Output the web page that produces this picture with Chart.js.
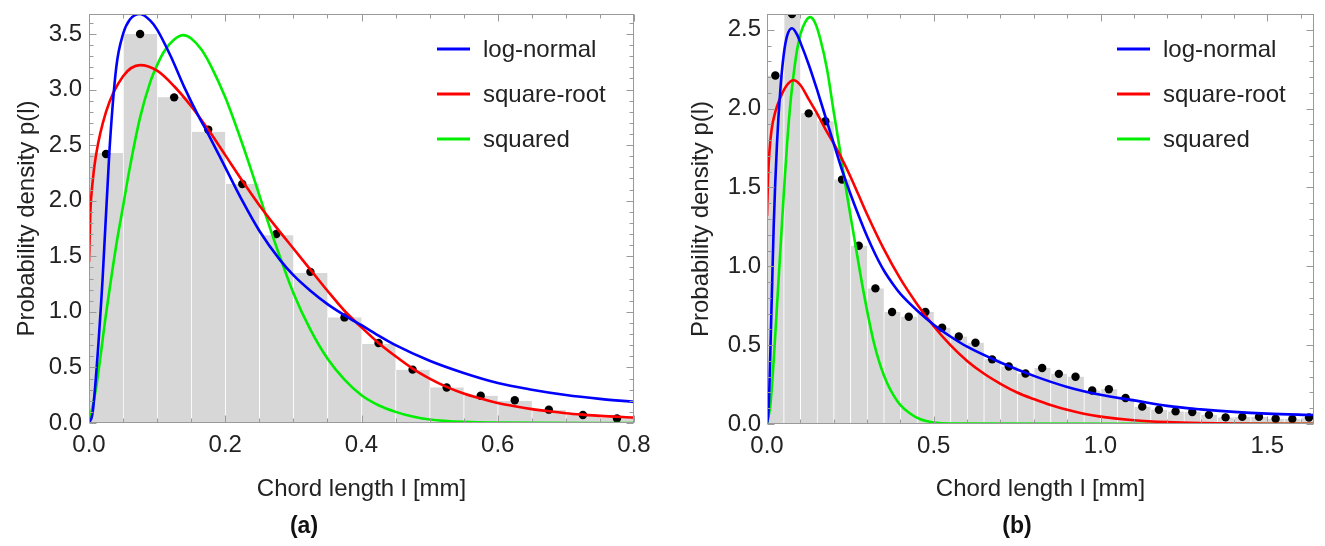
<!DOCTYPE html>
<html><head><meta charset="utf-8">
<script src="https://cdn.jsdelivr.net/npm/chart.js@4/dist/chart.umd.min.js"></script>
<style>
html,body{margin:0;padding:0;background:#fff;width:1325px;height:546px;overflow:hidden;}
#wrap{position:relative;width:1325px;height:546px;}
canvas{position:absolute;top:0;}
#ca{left:0;} #cb{left:660px;}
.tag{position:absolute;top:512px;width:100px;text-align:center;font:bold 23px "Liberation Sans",Arial,sans-serif;line-height:26px;color:#111;}
</style></head><body>
<div id="wrap">
<canvas id="ca" width="660" height="546"></canvas>
<canvas id="cb" width="665" height="546"></canvas>
<div class="tag" style="left:254px">(a)</div>
<div class="tag" style="left:967px">(b)</div>
</div>
<script>
// ---------------- Panel (a) data ----------------
const binCentersA = [0.025, 0.075, 0.125, 0.175, 0.225, 0.275, 0.325, 0.375, 0.425, 0.475, 0.525, 0.575, 0.625, 0.675, 0.725, 0.775];
const histA   = [2.43, 3.50, 2.93, 2.62, 2.15, 1.69, 1.35, 0.95, 0.71, 0.48, 0.32, 0.246, 0.198, 0.117, 0.072, 0.045];
const pointsA = [2.42, 3.50, 2.93, 2.64, 2.15, 1.70, 1.36, 0.95, 0.72, 0.48, 0.32, 0.245, 0.205, 0.12, 0.072, 0.04];

const lognormalXA = [0, 0.005, 0.01, 0.02, 0.03, 0.04, 0.05, 0.06, 0.075, 0.09, 0.1, 0.12, 0.14, 0.16, 0.175, 0.2, 0.225, 0.25, 0.28, 0.3, 0.325, 0.35, 0.383, 0.4, 0.427, 0.45, 0.5, 0.55, 0.6, 0.65, 0.7, 0.75, 0.8];
const lognormalYA = [0, 0.08, 0.4, 1.3, 2.45, 3.2, 3.5, 3.63, 3.68, 3.62, 3.54, 3.3, 3.02, 2.77, 2.6, 2.3, 2.0, 1.73, 1.47, 1.33, 1.19, 1.07, 0.94, 0.88, 0.78, 0.7, 0.56, 0.45, 0.36, 0.3, 0.252, 0.217, 0.19];

const sqrtXA = [0, 0.002, 0.005, 0.01, 0.025, 0.05, 0.075, 0.1, 0.125, 0.15, 0.175, 0.2, 0.225, 0.25, 0.275, 0.3, 0.325, 0.35, 0.375, 0.4, 0.425, 0.45, 0.475, 0.5, 0.525, 0.55, 0.575, 0.6, 0.625, 0.65, 0.675, 0.7, 0.725, 0.75, 0.8];
const sqrtYA = [1.45, 1.9, 2.15, 2.4, 2.8, 3.12, 3.22, 3.17, 3.03, 2.85, 2.64, 2.41, 2.18, 1.96, 1.76, 1.57, 1.38, 1.19, 1.01, 0.86, 0.72, 0.6, 0.49, 0.4, 0.325, 0.265, 0.22, 0.18, 0.15, 0.125, 0.105, 0.088, 0.075, 0.064, 0.05];

const squaredXA = [0, 0.01, 0.025, 0.04, 0.05, 0.06, 0.075, 0.09, 0.1, 0.11, 0.125, 0.1385, 0.15, 0.165, 0.18, 0.2, 0.22, 0.24, 0.26, 0.28, 0.3, 0.325, 0.35, 0.375, 0.4, 0.425, 0.45, 0.475, 0.5, 0.55, 0.6, 0.8];
const squaredYA = [0, 0.3, 0.98, 1.6, 1.95, 2.3, 2.75, 3.07, 3.22, 3.34, 3.45, 3.49, 3.46, 3.36, 3.2, 2.93, 2.6, 2.24, 1.86, 1.5, 1.17, 0.84, 0.58, 0.39, 0.25, 0.16, 0.1, 0.058, 0.032, 0.01, 0.003, 0];

const xTicksA = [0, 0.2, 0.4, 0.6, 0.8];
const xTickLabelsA = ['0.0', '0.2', '0.4', '0.6', '0.8'];
const yTicksA = [0, 0.5, 1.0, 1.5, 2.0, 2.5, 3.0, 3.5];
const yTickLabelsA = ['0.0', '0.5', '1.0', '1.5', '2.0', '2.5', '3.0', '3.5'];

// ---------------- Panel (b) data ----------------
const binCentersB = [0.025, 0.075, 0.125, 0.175, 0.225, 0.275, 0.325, 0.375, 0.425, 0.475, 0.525, 0.575, 0.625, 0.675, 0.725, 0.775, 0.825, 0.875, 0.925, 0.975, 1.025, 1.075, 1.125, 1.175, 1.225, 1.275, 1.325, 1.375, 1.425, 1.475, 1.525, 1.575, 1.625];
const histB   = [2.21, 2.62, 1.97, 1.92, 1.55, 1.13, 0.86, 0.71, 0.68, 0.71, 0.61, 0.555, 0.515, 0.41, 0.365, 0.32, 0.355, 0.318, 0.30, 0.212, 0.22, 0.165, 0.11, 0.09, 0.08, 0.076, 0.058, 0.042, 0.045, 0.045, 0.033, 0.031, 0.041];
const pointsB = [2.21, 2.60, 1.97, 1.92, 1.55, 1.13, 0.86, 0.71, 0.68, 0.71, 0.61, 0.555, 0.515, 0.41, 0.365, 0.32, 0.355, 0.318, 0.30, 0.212, 0.22, 0.165, 0.11, 0.09, 0.08, 0.076, 0.058, 0.042, 0.045, 0.045, 0.033, 0.031, 0.041];

const lognormalXB = [0, 0.005, 0.01, 0.02, 0.03, 0.04, 0.05, 0.06, 0.075, 0.09, 0.1, 0.125, 0.15, 0.175, 0.2, 0.225, 0.25, 0.275, 0.3, 0.325, 0.35, 0.38, 0.4, 0.45, 0.5, 0.55, 0.6, 0.7, 0.8, 0.9, 1.0, 1.1, 1.2, 1.3, 1.4, 1.5, 1.64];
const lognormalYB = [0, 0.1, 0.45, 1.25, 1.78, 2.12, 2.34, 2.46, 2.51, 2.47, 2.42, 2.28, 2.12, 1.95, 1.78, 1.61, 1.46, 1.32, 1.19, 1.075, 0.975, 0.88, 0.825, 0.72, 0.63, 0.555, 0.49, 0.39, 0.305, 0.235, 0.185, 0.15, 0.115, 0.093, 0.077, 0.066, 0.057];

const sqrtXB = [0, 0.003, 0.007, 0.014, 0.025, 0.04, 0.06, 0.08, 0.1, 0.125, 0.15, 0.175, 0.2, 0.225, 0.25, 0.275, 0.3, 0.35, 0.4, 0.45, 0.5, 0.55, 0.6, 0.65, 0.7, 0.75, 0.8, 0.85, 0.9, 0.95, 1.0, 1.1, 1.2, 1.3, 1.4, 1.5, 1.64];
const sqrtYB = [1.32, 1.55, 1.72, 1.87, 1.98, 2.07, 2.15, 2.18, 2.15, 2.06, 1.97, 1.87, 1.78, 1.68, 1.57, 1.45, 1.33, 1.11, 0.92, 0.76, 0.62, 0.5, 0.4, 0.32, 0.255, 0.2, 0.158, 0.12, 0.09, 0.065, 0.047, 0.024, 0.012, 0.006, 0.003, 0.0015, 0.0005];

const squaredXB = [0, 0.01, 0.02, 0.03, 0.04, 0.05, 0.06, 0.07, 0.08, 0.09, 0.1, 0.115, 0.13, 0.145, 0.16, 0.18, 0.2, 0.22, 0.24, 0.26, 0.28, 0.3, 0.32, 0.34, 0.36, 0.38, 0.4, 0.43, 0.46, 0.5, 0.55, 1.64];
const squaredYB = [0, 0.12, 0.4, 0.75, 1.1, 1.45, 1.77, 2.03, 2.22, 2.37, 2.47, 2.55, 2.58, 2.54, 2.44, 2.25, 1.98, 1.72, 1.45, 1.2, 0.95, 0.72, 0.52, 0.37, 0.26, 0.18, 0.12, 0.065, 0.03, 0.01, 0.003, 0];

const xTicksB = [0, 0.5, 1.0, 1.5];
const xTickLabelsB = ['0.0', '0.5', '1.0', '1.5'];
const yTicksB = [0, 0.5, 1.0, 1.5, 2.0, 2.5];
const yTickLabelsB = ['0.0', '0.5', '1.0', '1.5', '2.0', '2.5'];

const seriesNames = ['log-normal', 'square-root', 'squared'];
const seriesColors = ['#0000ff', '#ff0000', '#00ee00'];
const xTitle = 'Chord length l [mm]';
const yTitle = 'Probability density p(l)';

// ---------------- rendering ----------------
const FONT = '"Liberation Sans", Arial, Helvetica, sans-serif';
Chart.defaults.font.family = FONT;
Chart.defaults.color = '#222';

const frameTicks = {
  id: 'frameTicks',
  afterDatasetsDraw(chart, args, o) {
    const {ctx, chartArea: a, scales: {x, y}} = chart;
    ctx.save();
    ctx.strokeStyle = '#9a9a9a';
    ctx.lineWidth = 1;
    const L = Math.round(a.left) + 0.5, T = Math.round(a.top) + 0.5;
    const R = Math.round(a.right) - 0.5, B = Math.round(a.bottom) - 0.5;
    ctx.strokeRect(L, T, R - L, B - T);
    ctx.beginPath();
    const run = (scale, minor, major, draw) => {
      const n = Math.floor((scale.max - scale.min) / minor + 1e-6);
      for (let k = 0; k <= n; k++) {
        const v = scale.min + k * minor;
        const isMajor = Math.abs(v / major - Math.round(v / major)) < 1e-6;
        draw(Math.round(scale.getPixelForValue(v)) + 0.5, isMajor ? o.major : o.minor);
      }
    };
    run(x, o.xMinor, o.xMajor, (px, len) => {
      ctx.moveTo(px, B); ctx.lineTo(px, B - len);
      ctx.moveTo(px, T); ctx.lineTo(px, T + len);
    });
    run(y, o.yMinor, o.yMajor, (py, len) => {
      ctx.moveTo(L, py); ctx.lineTo(L + len, py);
      ctx.moveTo(R, py); ctx.lineTo(R - len, py);
    });
    ctx.stroke();
    ctx.restore();
  }
};

const insideLegend = {
  id: 'insideLegend',
  afterDatasetsDraw(chart, args, o) {
    const {ctx, chartArea: a} = chart;
    const items = chart.data.datasets.filter(d => d.inLegend);
    ctx.save();
    ctx.font = '24px ' + FONT;
    ctx.textBaseline = 'middle';
    ctx.textAlign = 'left';
    ctx.fillStyle = '#222';
    items.forEach((d, i) => {
      const yy = a.top + o.top + i * o.gap;
      ctx.strokeStyle = d.borderColor;
      ctx.lineWidth = 3;
      ctx.beginPath();
      ctx.moveTo(a.right - o.lineStart, yy);
      ctx.lineTo(a.right - o.lineEnd, yy);
      ctx.stroke();
      ctx.fillText(d.label, a.right - o.textStart, yy + 1);
    });
    ctx.restore();
  }
};

function curve(i, xs, ys) {
  return {
    type: 'line', label: seriesNames[i], inLegend: true,
    data: xs.map((x, k) => ({x, y: ys[k]})),
    borderColor: seriesColors[i], backgroundColor: seriesColors[i],
    borderWidth: 2.6, pointRadius: 0, fill: false,
    cubicInterpolationMode: 'monotone', order: 0
  };
}

function build(id, p) {
  const datasets = [
    {
      type: 'bar', label: 'histogram',
      data: p.centers.map((x, k) => ({x, y: p.hist[k]})),
      backgroundColor: '#d7d7d7', borderColor: 'rgba(255,255,255,0.85)',
      borderWidth: {left: 1, right: 0, top: 0, bottom: 0}, borderSkipped: false,
      barPercentage: 1, categoryPercentage: 1, grouped: false, order: 3
    },
    {
      type: 'line', label: 'measured',
      data: p.centers.map((x, k) => ({x, y: p.points[k]})),
      showLine: false, pointRadius: 4.2, pointBackgroundColor: '#000',
      pointBorderWidth: 0, borderColor: '#000', order: 2
    },
    curve(0, p.lnX, p.lnY),
    curve(1, p.sqX, p.sqY),
    curve(2, p.s2X, p.s2Y)
  ];
  return new Chart(document.getElementById(id), {
    type: 'bar',
    data: {datasets},
    plugins: [frameTicks, insideLegend],
    options: {
      responsive: false, animation: false, events: [],
      layout: {padding: p.pad},
      plugins: {
        legend: {display: false}, tooltip: {enabled: false},
        frameTicks: {major: 7, minor: 4, xMinor: p.xMinor, xMajor: p.xMajor, yMinor: 0.1, yMajor: 0.5},
        insideLegend: {top: 35, gap: 45, lineStart: 197, lineEnd: 164, textStart: 151}
      },
      scales: {
        x: {
          type: 'linear', min: 0, max: p.xMax, offset: false,
          grid: {display: false, drawTicks: false}, border: {display: false},
          afterBuildTicks: s => { s.ticks = p.xTicks.map(v => ({value: v})); },
          ticks: {
            callback: v => p.xLabels[p.xTicks.findIndex(t => Math.abs(t - v) < 1e-9)],
            padding: 8, color: '#222', font: {size: 24}, maxRotation: 0, autoSkip: false
          },
          title: {display: true, text: xTitle, color: '#222', font: {size: 24}, padding: {top: 0, bottom: 34}},
          afterFit: s => { s.height = p.xAxisH; s.paddingLeft = 0; s.paddingRight = 0; }
        },
        y: {
          type: 'linear', min: 0, max: p.yMax,
          grid: {display: false, drawTicks: false}, border: {display: false},
          afterBuildTicks: s => { s.ticks = p.yTicks.map(v => ({value: v})); },
          ticks: {
            callback: v => p.yLabels[p.yTicks.findIndex(t => Math.abs(t - v) < 1e-9)],
            padding: p.yPad, color: '#222', font: {size: 24}, autoSkip: false
          },
          title: {display: true, text: yTitle, color: '#222', font: {size: 24}, padding: {top: 13, bottom: 0}},
          afterFit: s => { s.width = p.yAxisW; s.paddingTop = 0; s.paddingBottom = 0; }
        }
      }
    }
  });
}

build('ca', {
  centers: binCentersA, hist: histA, points: pointsA,
  lnX: lognormalXA, lnY: lognormalYA, sqX: sqrtXA, sqY: sqrtYA, s2X: squaredXA, s2Y: squaredYA,
  xTicks: xTicksA, xLabels: xTickLabelsA, yTicks: yTicksA, yLabels: yTickLabelsA,
  xMax: 0.8, yMax: 3.68, xMinor: 0.05, xMajor: 0.2,
  pad: {left: 0, right: 26, top: 14, bottom: 8}, xAxisH: 115, yAxisW: 89, yPad: 7
});
build('cb', {
  centers: binCentersB, hist: histB, points: pointsB,
  lnX: lognormalXB, lnY: lognormalYB, sqX: sqrtXB, sqY: sqrtYB, s2X: squaredXB, s2Y: squaredYB,
  xTicks: xTicksB, xLabels: xTickLabelsB, yTicks: yTicksB, yLabels: yTickLabelsB,
  xMax: 1.64, yMax: 2.6, xMinor: 0.1, xMajor: 0.5,
  pad: {left: 14, right: 11, top: 14, bottom: 8}, xAxisH: 114, yAxisW: 93, yPad: 6
});
</script>
</body></html>
